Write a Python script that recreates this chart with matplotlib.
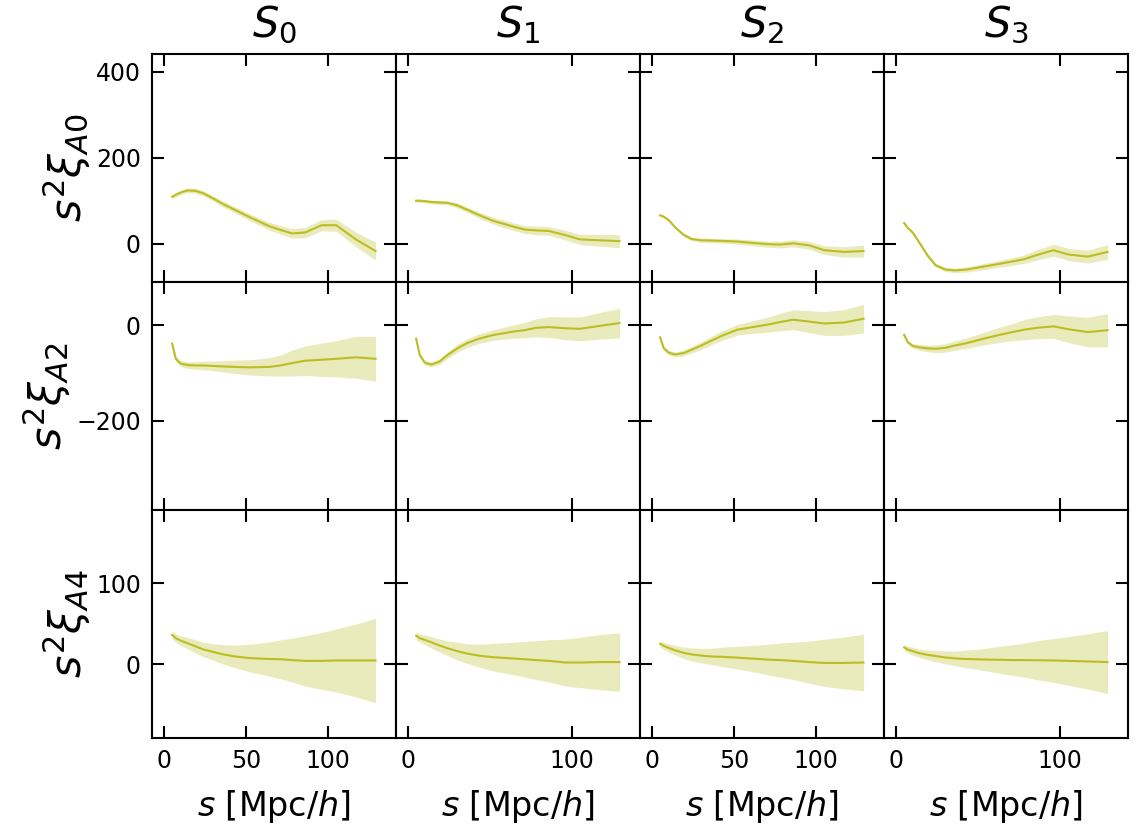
import numpy as np
import matplotlib
matplotlib.use("Agg")
import matplotlib.pyplot as plt

# separation bins [Mpc/h] (roughly log spaced)
s = [4.8, 7, 10, 14, 19, 24, 30, 36, 43, 52, 64, 71, 78, 86, 96, 105, 117, 129]

sample_names = [r"$S_0$", r"$S_1$", r"$S_2$", r"$S_3$"]
row_labels = [r"$s^2\xi_{A0}$", r"$s^2\xi_{A2}$", r"$s^2\xi_{A4}$"]

# s^2 xi_A0 (monopole)
a0_s0 = [109, 114, 119, 124, 123, 117, 105, 92, 79, 62, 41, 32, 24, 26, 43, 43, 10, -17]
a0_s0_err = [5, 5, 5, 5, 6, 6, 6, 7, 7, 8, 9, 10, 11, 12, 13, 14, 17, 21]
a0_s1 = [100, 100, 99, 97, 96, 95, 89, 79, 67, 53, 40, 33, 31, 29.5, 20, 10, 8, 6]
a0_s1_err = [4, 4, 4, 4, 5, 5, 6, 6, 7, 8, 9, 9, 10, 10, 11, 12, 14, 15]
a0_s2 = [66, 63, 55, 38, 21, 11, 8, 7.5, 6.5, 5, 1, -1, -2, 1, -4, -15, -19, -17]
a0_s2_err = [3, 3, 3, 3, 4, 4, 5, 5, 5, 6, 7, 7, 8, 8, 9, 10, 12, 14]
a0_s3 = [48, 37, 26, 3, -27, -50, -60, -62, -60, -54, -46, -41, -36, -26, -15, -25, -30, -19]
a0_s3_err = [3, 3, 3, 3, 4, 4, 5, 5, 6, 7, 8, 9, 10, 12, 14, 14, 15, 17]

# s^2 xi_A2 (quadrupole)
a2_s0 = [-38, -70, -80, -83, -84, -84, -85, -86, -87, -88, -87, -84, -79, -74, -72, -70, -67, -70]
a2_s0_err = [4, 5, 6, 7, 8, 9, 10, 12, 14, 16, 19, 22, 27, 31, 35, 38, 44, 47]
a2_s1 = [-28, -62, -78, -82, -76, -62, -48, -37, -28, -20, -13, -10, -5, -3.5, -6, -7, -1, 5]
a2_s1_err = [4, 4, 5, 5, 6, 7, 8, 9, 10, 11, 14, 16, 19, 22, 24, 25, 28, 31]
a2_s2 = [-25, -48, -57, -61, -58, -51, -42, -32, -21, -9, -2, 2, 7, 12, 8, 4, 6, 14]
a2_s2_err = [4, 4, 5, 5, 6, 7, 8, 9, 10, 11, 14, 16, 18, 21, 23, 25, 27, 30]
a2_s3 = [-20, -35, -43, -46, -48, -49, -47, -42, -37, -29, -19, -14, -9, -5, -2, -8, -14, -10]
a2_s3_err = [4, 4, 5, 6, 7, 8, 9, 10, 11, 13, 16, 18, 21, 23, 25, 28, 31, 35]

# s^2 xi_A4 (hexadecapole)
a4_s0 = [36, 32, 29, 26, 22, 18, 15, 12, 9.5, 7.5, 6.3, 6, 5, 4, 4, 4.5, 4.5, 4.5]
a4_s0_err = [5, 5, 6, 7, 8, 9, 10, 12, 14, 17, 21, 24, 27, 31, 35, 39, 45, 52]
a4_s1 = [35, 32, 30, 27, 23, 19.5, 16, 13, 10.5, 8.5, 7, 6, 5, 4, 2, 2, 2.5, 2.5]
a4_s1_err = [5, 5, 6, 7, 8, 9, 11, 12, 14, 17, 20, 22, 24, 26, 29, 31, 34, 36]
a4_s2 = [25, 22.5, 20, 17, 14, 12, 10.5, 9.5, 9, 8, 6.5, 5.5, 5, 4, 2.5, 1.5, 1.5, 2]
a4_s2_err = [4, 4, 5, 6, 7, 8, 9, 10, 12, 14, 17, 19, 21, 23, 26, 29, 32, 35]
a4_s3 = [20.5, 18, 16, 13.5, 11.5, 10, 8.2, 7, 6.3, 5.8, 5.3, 5, 5, 4.8, 4.5, 4, 3.3, 2.5]
a4_s3_err = [4, 4, 5, 5, 6, 7, 8, 9, 11, 13, 17, 19, 21, 24, 27, 30, 34, 39]

means = [[a0_s0, a0_s1, a0_s2, a0_s3],
         [a2_s0, a2_s1, a2_s2, a2_s3],
         [a4_s0, a4_s1, a4_s2, a4_s3]]
errs = [[a0_s0_err, a0_s1_err, a0_s2_err, a0_s3_err],
        [a2_s0_err, a2_s1_err, a2_s2_err, a2_s3_err],
        [a4_s0_err, a4_s1_err, a4_s2_err, a4_s3_err]]

row_ylims = [(-89, 441), (-387, 91), (-91, 190)]
row_yticks = [[0, 200, 400], [-200, 0], [0, 100]]
col_xticks = [[0, 50, 100], [0, 100], [0, 50, 100], [0, 100]]

color = "#bcbd22"

fig, axes = plt.subplots(3, 4, figsize=(11.37, 8.25), dpi=100, sharey="row")
fig.subplots_adjust(left=0.1337, right=0.9921, top=0.9345, bottom=0.1055,
                    wspace=0, hspace=0)

x = np.array(s)
for i in range(3):
    for j in range(4):
        ax = axes[i, j]
        m = np.array(means[i][j])
        e = np.array(errs[i][j])
        ax.fill_between(x, m - e, m + e, color=color, alpha=0.3, lw=0)
        ax.plot(x, m, color=color, lw=1.5)
        ax.set_xlim(-7.5, 141.5)
        ax.set_ylim(*row_ylims[i])
        ax.set_xticks(col_xticks[j])
        ax.set_yticks(row_yticks[i])
        ax.tick_params(direction="in", top=True, right=True, length=8.5,
                       width=1.5, labelsize=17, pad=8)
        for sp in ax.spines.values():
            sp.set_linewidth(1.5)
        if i < 2:
            ax.tick_params(labelbottom=False)
        else:
            ax.set_xlabel(r"$s$ [Mpc/$h$]", fontsize=24, labelpad=11)
        if j > 0:
            ax.tick_params(labelleft=False)
        else:
            ax.set_ylabel(row_labels[i], fontsize=31, labelpad=2)
        if i == 0:
            ax.set_title(sample_names[j], fontsize=30, pad=12)

fig.savefig("out.png", dpi=100)
